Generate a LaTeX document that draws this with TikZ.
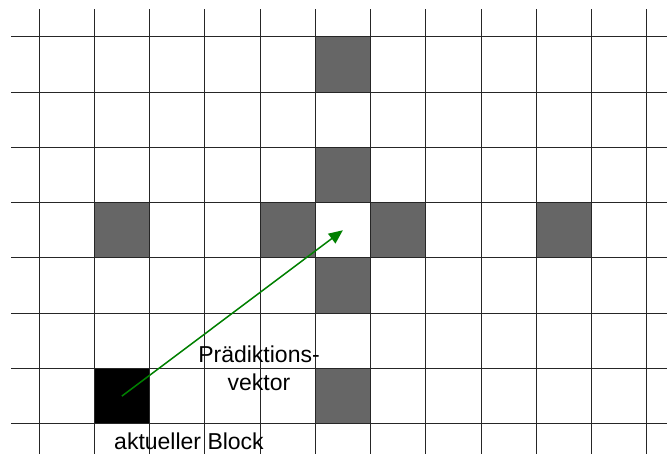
\documentclass[tikz,border=0pt]{standalone}
\usepackage{fontspec}
\setmainfont{Liberation Sans}
\usetikzlibrary{arrows.meta}
\definecolor{cellgray}{HTML}{666666}
\definecolor{arrowgreen}{HTML}{008000}
\begin{document}
\begin{tikzpicture}[x=1pt,y=-1pt,
  cellbox/.style={draw=none,minimum width=55.25pt,minimum height=55.3pt,inner sep=0pt,outer sep=0pt},
  graycell/.style={cellbox,fill=cellgray},
  blackcell/.style={cellbox,fill=black},
  emptycell/.style={cellbox},
  gridline/.style={line width=0.9pt,black!85},
  vecarrow/.style={draw=arrowgreen,line width=1.5pt,-{Triangle[length=14pt,width=12pt]}},
  lbl/.style={font=\fontsize{23}{28}\selectfont,anchor=base,inner sep=0pt}]
\useasboundingbox (0,0) rectangle (667,455);
\fill[white] (0,0) rectangle (667,455);
% cells: center x = 39+55.25*(c+0.5), center y = 36.7+55.3*(r+0.5)
\foreach \c/\r/\n in {5/0/a,5/2/b,1/3/c,4/3/d,6/3/e,9/3/f,5/4/g,5/6/h}{
  \node[graycell] (g\n) at ({39+55.25*(\c+0.5)},{36.7+55.3*(\r+0.5)}) {};
}
\node[blackcell] (cur) at ({39+55.25*1.5},{36.7+55.3*6.5}) {};
\node[emptycell] (target) at ({39+55.25*5.5},{36.7+55.3*3.5}) {};
% grid
\foreach \k in {0,...,11}{
  \draw[gridline] ({39+55.25*\k},9) -- ({39+55.25*\k},454);
}
\foreach \k in {0,...,7}{
  \draw[gridline] (11,{36.7+55.3*\k}) -- (667,{36.7+55.3*\k});
}
% arrow
\draw[vecarrow] (cur.center) -- (target.center);
% labels
\node[lbl] (l1) at (259,362) {Prädiktions-};
\node[lbl] (l2) at (259,390) {vektor};
\node[lbl] (l3) at (189,449) {aktueller Block};
\end{tikzpicture}
\end{document}
